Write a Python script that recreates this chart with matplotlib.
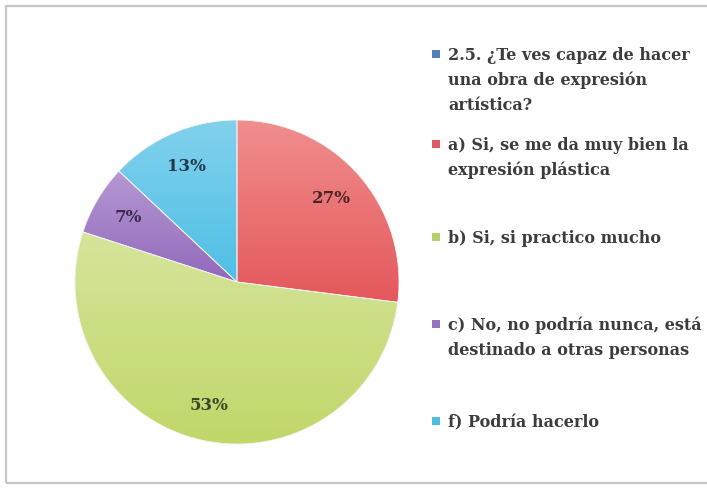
import numpy as np
import matplotlib.pyplot as plt
from matplotlib.patches import Rectangle
from matplotlib.colors import LinearSegmentedColormap

# survey answers, clockwise from 12 o'clock
shares = [27, 53, 7, 13]
# each slice shades from a lighter top to a darker bottom
slice_top = ['#F08E8E', '#D5E59C', '#B698D3', '#82D1ED']
slice_bottom = ['#E4585B', '#C0D769', '#9169BA', '#4EBFE5']
pct_colors = ['#4A2424', '#3C4628', '#3A2A4A', '#24384A']

legend_labels = [
    '2.5. ¿Te ves capaz de hacer\nuna obra de expresión\nartística?',
    'a) Si, se me da muy bien la\nexpresión plástica',
    'b) Si, si practico mucho',
    'c) No, no podría nunca, está\ndestinado a otras personas',
    'f) Podría hacerlo',
]
legend_colors = ['#4F81BD', '#E05A5E', '#B5CF6A', '#9274B8', '#4FBDE2']

FONT = 'DejaVu Serif'
W, H = 707, 488
fig = plt.figure(figsize=(W / 100, H / 100), dpi=100)
fig.patch.set_facecolor('white')

# chart frame
fig.patches.append(Rectangle((6 / W, 1 - 483 / H), 720 / W, 477 / H,
                             transform=fig.transFigure, fill=False,
                             edgecolor='#C6C6C6', linewidth=1.6))

cx, cy, r = 237, 282, 162
ax = fig.add_axes([(cx - r) / W, 1 - (cy + r) / H, 2 * r / W, 2 * r / H])
wedges, texts = ax.pie(
    shares, colors=slice_bottom, startangle=90, counterclock=False,
    radius=1, wedgeprops=dict(edgecolor='#F4F4F4', linewidth=0.6))

grad = np.linspace(0, 1, 256).reshape(-1, 1)
for w, c0, c1 in zip(wedges, slice_top, slice_bottom):
    # vertical extent of this wedge in data coords
    th = np.deg2rad(np.linspace(w.theta1, w.theta2, 200))
    ys = np.concatenate([np.sin(th), [0]])
    xs = np.concatenate([np.cos(th), [0]])
    cmap = LinearSegmentedColormap.from_list('g', [c0, c1])
    im = ax.imshow(grad, cmap=cmap, aspect='auto', origin='upper',
                   extent=[xs.min(), xs.max(), ys.min(), ys.max()], zorder=1.5)
    im.set_clip_path(w)
    w.set_facecolor('none')
    w.set_zorder(2)

ax.set_xlim(-1, 1)
ax.set_ylim(-1, 1)
ax.set_aspect('equal')
ax.axis('off')

# percentage labels from the shares themselves
total = sum(shares)
for w, v, c in zip(wedges, shares, pct_colors):
    mid = np.deg2rad((w.theta1 + w.theta2) / 2)
    ax.text(0.78 * np.cos(mid), 0.78 * np.sin(mid), f'{round(100 * v / total)}%',
            ha='center', va='center', fontfamily=FONT, fontweight='bold',
            fontsize=12, color=c, zorder=3)

# legend drawn by hand: square + lines of text
baselines = [60, 150, 243, 330, 427]
line_step = 25
for lab, col, y0 in zip(legend_labels, legend_colors, baselines):
    fig.patches.append(Rectangle((432 / W, 1 - (y0 - 2) / H), 8 / W, 8 / H,
                                 transform=fig.transFigure,
                                 facecolor=col, edgecolor='none'))
    for i, line in enumerate(lab.split('\n')):
        fig.text(448 / W, 1 - (y0 + i * line_step) / H, line,
                 fontfamily=FONT, fontweight='bold',
                 fontsize=11.5, color='#3C3C3C', va='baseline', ha='left')

fig.savefig('out.png', dpi=100)
